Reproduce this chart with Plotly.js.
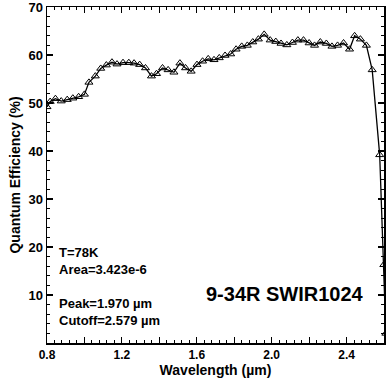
<!DOCTYPE html>
<html>
<head>
<meta charset="utf-8">
<script src="https://cdn.plot.ly/plotly-3.0.1.min.js"></script>
<style>html,body{margin:0;padding:0;background:#fff;}#chart{width:389px;height:381px;}</style>
</head>
<body>
<div id="chart"></div>
<script>
const wavelength = [0.800,0.817,0.845,0.876,0.908,0.938,0.969,1.000,1.024,1.058,1.087,1.117,1.147,1.174,1.206,1.237,1.265,1.295,1.326,1.358,1.385,1.417,1.447,1.478,1.510,1.540,1.570,1.601,1.631,1.661,1.692,1.720,1.751,1.781,1.810,1.840,1.870,1.899,1.929,1.960,1.992,2.022,2.050,2.081,2.111,2.140,2.170,2.200,2.229,2.260,2.292,2.322,2.352,2.384,2.416,2.443,2.474,2.506,2.537,2.577,2.599,2.610];
const qe = [49.2,50.3,50.9,50.4,50.7,51.0,51.3,51.8,54.3,55.6,57.2,57.9,58.5,58.1,58.4,58.4,58.3,58.0,57.3,55.6,56.1,57.3,56.9,56.4,58.3,57.3,56.6,58.0,58.7,59.2,59.0,59.4,59.9,60.2,61.2,61.8,62.0,62.7,63.3,64.3,63.1,62.8,62.4,62.1,62.6,63.1,63.1,62.5,62.0,62.7,62.4,61.8,62.0,62.5,61.2,64.0,63.3,62.0,56.9,39.2,16.3,2.0];
const xTickVals = [0.8,1.0,1.2,1.4,1.6,1.8,2.0,2.2,2.4,2.6];
const xTickText = ['0.8','','1.2','','1.6','','2.0','','2.4',''];
const yTickVals = [10,20,30,40,50,60,70];
const yTickText = ['10','20','30','40','50','60','70'];
const notes = ['T=78K','Area=3.423e-6','Peak=1.970 µm','Cutoff=2.579 µm'];
const label = '9-34R SWIR1024';

const FONT = 'Liberation Sans, Arial, Helvetica, sans-serif';

const trace = {
  x: wavelength, y: qe, type: 'scatter', mode: 'lines+markers',
  line: {color: '#000', width: 1.3},
  marker: {symbol: 'triangle-up-open', size: 7, color: '#000', line: {width: 1, color: '#000'}},
  cliponaxis: true, hoverinfo: 'none'
};

const noteY = [0.269, 0.218, 0.118, 0.068];
const annotations = notes.map((t, i) => ({
  text: t, xref: 'paper', yref: 'paper', x: 0.03, y: noteY[i],
  xanchor: 'left', yanchor: 'middle', showarrow: false,
  font: {family: FONT, size: 13, color: '#000', weight: 'bold'}
}));
annotations.push({
  text: '<b>' + label + '</b>', xref: 'paper', yref: 'paper', x: 0.706, y: 0.147,
  xanchor: 'center', yanchor: 'middle', showarrow: false,
  font: {family: FONT, size: 20, color: '#000'}
});

const layout = {
  width: 389, height: 381,
  margin: {l: 47, r: 5, t: 7, b: 38},
  paper_bgcolor: '#fff', plot_bgcolor: '#fff',
  showlegend: false,
  font: {family: FONT, color: '#000'},
  xaxis: {
    range: [0.8, 2.6], tickmode: 'array', tickvals: xTickVals, ticktext: xTickText,
    ticks: 'inside', ticklen: 6, tickwidth: 1.2, tickcolor: '#000',
    minor: {dtick: 0.04, tick0: 0.8, ticks: 'inside', ticklen: 3, tickwidth: 1, tickcolor: '#000', showgrid: false},
    showline: true, linecolor: '#000', linewidth: 1.5, mirror: 'allticks',
    showgrid: false, zeroline: false, ticklabeloverflow: 'allow',
    tickfont: {family: FONT, size: 12, color: '#000', weight: 'bold'},
    title: {text: '<b>Wavelength (µm)</b>', font: {family: FONT, size: 14, color: '#000'}, standoff: 2}
  },
  yaxis: {
    range: [0, 70], tickmode: 'array', tickvals: yTickVals, ticktext: yTickText,
    ticks: 'inside', ticklen: 6, tickwidth: 1.2, tickcolor: '#000',
    minor: {dtick: 2, tick0: 0, ticks: 'inside', ticklen: 3, tickwidth: 1, tickcolor: '#000', showgrid: false},
    showline: true, linecolor: '#000', linewidth: 1.5, mirror: 'allticks',
    showgrid: false, zeroline: false, ticklabeloverflow: 'allow',
    tickfont: {family: FONT, size: 13, color: '#000', weight: 'bold'},
    title: {text: '<b>Quantum Efficiency (%)</b>', font: {family: FONT, size: 14, color: '#000'}, standoff: 4}
  },
  annotations: annotations
};

Plotly.newPlot('chart', [trace], layout, {displayModeBar: false, staticPlot: true});
</script>
</body>
</html>
